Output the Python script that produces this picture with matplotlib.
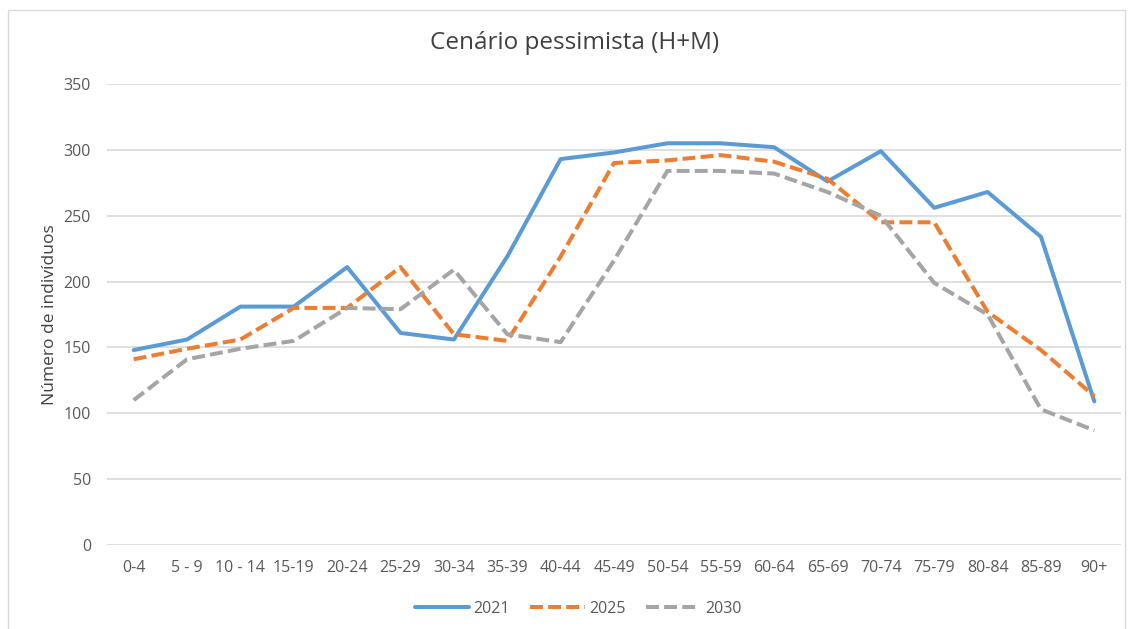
import matplotlib
matplotlib.use("Agg")
import matplotlib.pyplot as plt
from matplotlib.patches import Rectangle

# age groups and population per scenario year
age_groups = ["0-4", "5 - 9", "10 - 14", "15-19", "20-24", "25-29", "30-34", "35-39",
              "40-44", "45-49", "50-54", "55-59", "60-64", "65-69", "70-74", "75-79",
              "80-84", "85-89", "90+"]
pop_2021 = [148, 156, 181, 181, 211, 161, 156, 219, 293, 298, 305, 305, 302, 276, 299,
            256, 268, 234, 109]
pop_2025 = [141, 149, 156, 180, 180, 211, 160, 155, 219, 290, 292, 296, 291, 278, 245,
            245, 177, 148, 113]
pop_2030 = [110, 141, 149, 155, 180, 179, 209, 160, 154, 216, 284, 284, 282, 268, 250,
            199, 175, 103, 87]

series = [("2021", pop_2021, "#5B9BD5", "-"),
          ("2025", pop_2025, "#ED7D31", "--"),
          ("2030", pop_2030, "#A5A5A5", "--")]

W, H = 1133, 629
fig = plt.figure(figsize=(W / 100, H / 100), dpi=100)
plt.rcParams["font.family"] = ["Open Sans", "DejaVu Sans"]

# plot area in pixels: left 107, right 1121, top 84, bottom 545
ax = fig.add_axes([107 / W, 1 - 545 / H, (1121 - 107) / W, (545 - 84) / H])

x = range(len(age_groups))
for name, vals, color, ls in series:
    line, = ax.plot(x, vals, color=color, lw=2.9, ls=ls, label=name,
                    solid_capstyle="round")
    if ls == "--":
        line.set_dashes((3.2, 1.3))

ax.set_xlim(-0.5, len(age_groups) - 0.5)
ax.set_ylim(0, 350)
ax.set_yticks(range(0, 351, 50))
ax.set_xticks(list(x))
ax.set_xticklabels(age_groups)
ax.grid(axis="y", color="#D9D9D9", lw=1.2)
ax.set_axisbelow(True)
for s in ax.spines.values():
    s.set_visible(False)
ax.tick_params(length=0, labelsize=11.5, colors="#595959")
ax.tick_params(axis="x", pad=11)
ax.tick_params(axis="y", pad=11.5)

ax.set_ylabel("Número de indivíduos", fontsize=12.5, color="#404040", labelpad=4)
fig.text(575 / W, 1 - 43 / H, "Cenário pessimista (H+M)", ha="center", va="center",
         fontsize=17.5, color="#404040")

fig.legend(loc="center", bbox_to_anchor=(578 / W, 1 - 609 / H), ncol=3, frameon=False,
           fontsize=11.5, handlelength=3.4, columnspacing=1.25, handletextpad=0.3,
           labelcolor="#595959")

fig.patches.append(Rectangle((8 / W, -0.05), 1 - 16 / W, 1.05 - 10 / H,
                             transform=fig.transFigure, fill=False,
                             edgecolor="#D9D9D9", lw=1))

fig.savefig("out.png", dpi=100)
